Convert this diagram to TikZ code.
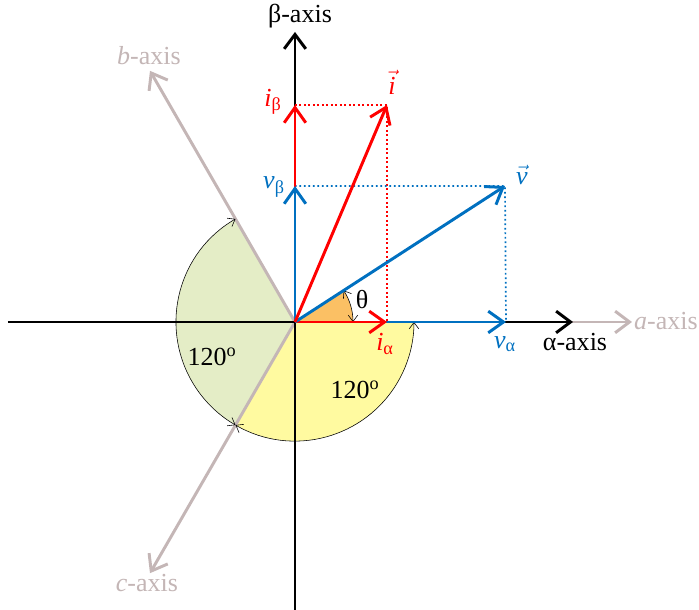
\documentclass[tikz,border=0pt]{standalone}
\usepackage{amsmath}
\usepackage{fontspec}
\setmainfont{Liberation Serif}
\usetikzlibrary{arrows.meta}
\definecolor{axisgray}{RGB}{196,182,182}
\definecolor{vblue}{RGB}{0,112,192}
\definecolor{sectgreen}{RGB}{228,237,198}
\definecolor{sectyellow}{RGB}{255,250,160}
\definecolor{sectorange}{RGB}{251,192,100}

\begin{document}
\begin{tikzpicture}[
        x=0.025cm, y=0.025cm,
        font=\fontsize{18.5}{21}\selectfont,
        axis/.style={black, line width=2.1pt, -{Straight Barb[length=3.6mm, width=5.4mm]}},
        abcaxis/.style={axisgray, line width=2.1pt, -{Straight Barb[length=3.6mm, width=5.4mm]}},
        vecline/.style={line width=2.1pt, -{Straight Barb[length=3.8mm, width=5.4mm]}},
        proj/.style={dotted, line width=1.2pt},
        anglearc/.style={black, line width=0.4pt, {Straight Barb[length=1.6mm, width=2.4mm]}-{Straight Barb[length=1.6mm, width=2.4mm]}}
    ]
        \useasboundingbox (-295,-288) rectangle (404,322);

        % Punkte
        \coordinate (O) at (0,0);
        \coordinate (I) at (92,217);
        \coordinate (Ia) at (92,0);
        \coordinate (Ib) at (0,217);
        \coordinate (V) at (210,136);
        \coordinate (Va) at (211,0);
        \coordinate (Vb) at (0,136);
        \coordinate (Aend) at (337,0);
        \coordinate (Bend) at (120:290);
        \coordinate (Cend) at (240:290);
        \coordinate (AlphaS) at (-287,0);
        \coordinate (AlphaE) at (278,0);
        \coordinate (BetaS) at (0,-288);
        \coordinate (BetaE) at (0,290);

        % Sektoren
        \fill[sectgreen] (O) -- (120:119) arc[start angle=120, end angle=240, radius=119] -- cycle;
        \fill[sectyellow] (O) -- (240:119) arc[start angle=240, end angle=360, radius=119] -- cycle;
        \fill[sectorange] (O) -- (58,0) arc[start angle=0, end angle=32.9, radius=58] -- cycle;

        % abc-Achsen
        \draw[abcaxis] (O) -- (Aend);
        \draw[abcaxis] (O) -- (Bend);
        \draw[abcaxis] (O) -- (Cend);
        \node[axisgray] (alab) at (371,1) {\textit{a}-axis};
        \node[axisgray] (blab) at (-146,266) {\textit{b}-axis};
        \node[axisgray] (clab) at (-148,-261) {\textit{c}-axis};

        % alpha-beta-Achsen
        \draw[axis] (AlphaS) -- (AlphaE);
        \draw[axis] (BetaS) -- (BetaE);
        \node (alphalab) at (280,-20) {α-axis};
        \node (betalab) at (5,306) {β-axis};

        % Winkel
        \draw[anglearc] (120:119) arc[start angle=120, end angle=240, radius=119];
        \draw[anglearc] (240:119) arc[start angle=240, end angle=360, radius=119];
        \draw[anglearc] (58,0) arc[start angle=0, end angle=32.9, radius=58];
        \node (theta) at (67,22) {θ};
        \node (ang1) at (-83,-35) {120\textsuperscript{o}};
        \node (ang2) at (60,-68) {120\textsuperscript{o}};

        % Projektionen
        \draw[proj, red] (Ib) -- (I) -- (Ia);
        \draw[proj, vblue] (Vb) -- (V) -- (Va);

        % Vektoren
        \draw[vecline, vblue] (O) -- (Va);
        \draw[vecline, red] (O) -- (Ia);
        \draw[vecline, red] (O) -- (Ib);
        \draw[vecline, vblue] (O) -- (Vb);
        \draw[vecline, vblue] (O) -- (V);
        \draw[vecline, red] (O) -- (I);

        % Beschriftungen
        \node[red] (ilab) at (97,240) {$\vec{\text{\itshape i}}$};
        \node[vblue] (vlab) at (227,147) {$\vec{\text{\itshape v}}$};
        \node[red] (iblab) at (-22,220) {\textit{i}\textsubscript{β}};
        \node[vblue] (vblab) at (-21,135) {\textit{v}\textsubscript{β}};
        \node[red] (ialab) at (90,-22) {\textit{i}\textsubscript{α}};
        \node[vblue] (valab) at (210,-22) {\textit{v}\textsubscript{α}};
    \end{tikzpicture}
\end{document}
